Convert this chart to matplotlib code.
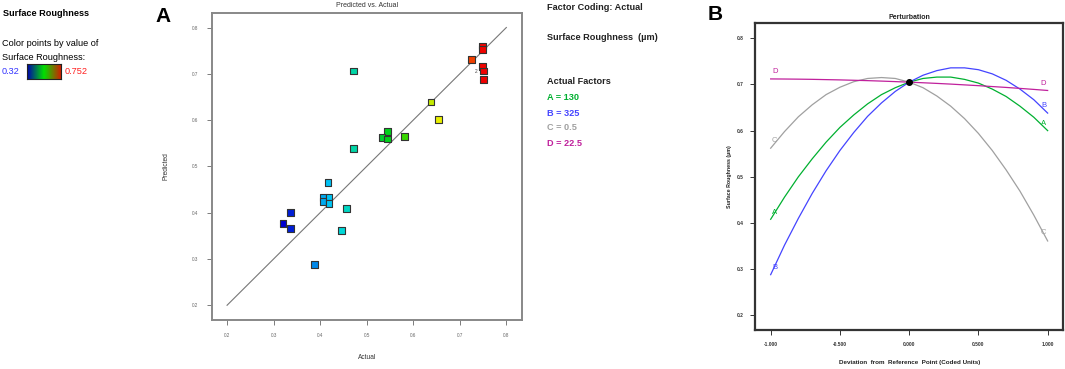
import numpy as np
import matplotlib
matplotlib.use('Agg')
from matplotlib import pyplot as plt
from matplotlib.colors import LinearSegmentedColormap, Normalize

plt.rcParams['font.family'] = ['Liberation Sans', 'DejaVu Sans']

# panel A: predicted vs actual
actual = [0.749, 0.749, 0.726, 0.749, 0.751, 0.751, 0.638, 0.654,
          0.471, 0.544, 0.533, 0.544, 0.581, 0.471,
          0.417, 0.406, 0.406, 0.419, 0.419, 0.456, 0.446,
          0.336, 0.320, 0.336, 0.388]
predicted = [0.760, 0.752, 0.731, 0.715, 0.706, 0.688, 0.639, 0.601,
             0.706, 0.576, 0.562, 0.559, 0.565, 0.539,
             0.466, 0.433, 0.425, 0.434, 0.420, 0.409, 0.362,
             0.400, 0.377, 0.366, 0.288]
color_min, color_max = 0.32, 0.752

# panel B: perturbation
dev = [-1.0, -0.9, -0.8, -0.7, -0.6, -0.5, -0.4, -0.3, -0.2, -0.1, 0.0,
       0.1, 0.2, 0.3, 0.4, 0.5, 0.6, 0.7, 0.8, 0.9, 1.0]
pert_A = [0.408, 0.456, 0.500, 0.539, 0.575, 0.607, 0.634, 0.658, 0.678, 0.693, 0.705,
          0.713, 0.716, 0.716, 0.711, 0.703, 0.690, 0.674, 0.653, 0.629, 0.600]
pert_B = [0.288, 0.352, 0.410, 0.464, 0.513, 0.557, 0.596, 0.631, 0.660, 0.685, 0.705,
          0.720, 0.730, 0.736, 0.736, 0.732, 0.723, 0.709, 0.690, 0.667, 0.638]
pert_C = [0.562, 0.598, 0.630, 0.656, 0.678, 0.694, 0.706, 0.713, 0.715, 0.713, 0.705,
          0.693, 0.675, 0.653, 0.626, 0.594, 0.557, 0.515, 0.469, 0.417, 0.361]
pert_D = [0.712, 0.7118, 0.7115, 0.7111, 0.7105, 0.7099, 0.7091, 0.7083, 0.7073, 0.7062, 0.705,
          0.7037, 0.7023, 0.7008, 0.6991, 0.6974, 0.6955, 0.6936, 0.6915, 0.6893, 0.687]
ref_point = (0.0, 0.705)

factor_names = ['A', 'B', 'C', 'D']
factor_values = ['130', '325', '0.5', '22.5']
factor_colors = ['#00b030', '#4444ff', '#a0a0a0', '#c0209c']

W, H = 1065, 369
fig = plt.figure(figsize=(W / 100, H / 100), dpi=100)


def ftext(x, y, s, **kw):
    # place text with pixel coords measured from top-left
    fig.text(x / W, 1 - y / H, s, va='center', ha=kw.pop('ha', 'left'), **kw)


# left legend
ftext(3, 13, 'Surface Roughness', fontsize=6.6, fontweight='bold')
ftext(2, 43, 'Color points by value of', fontsize=6.6)
ftext(2, 57, 'Surface Roughness:', fontsize=6.6)
ftext(2, 72, '0.32', fontsize=6.6, color='#3333ff')
ftext(65, 72, '0.752', fontsize=6.6, color='#ff2020')
cax = fig.add_axes([27 / W, 1 - 79 / H, 34 / W, 14.5 / H])
grad = LinearSegmentedColormap.from_list('g', ['#0000b0', '#00e000', '#d02000'])
cax.imshow(np.linspace(0, 1, 100)[None, :], aspect='auto', cmap=grad)
cax.set_xticks([])
cax.set_yticks([])
for s in cax.spines.values():
    s.set_color('#222222')
    s.set_linewidth(0.8)

# panel letters
ftext(163, 17, 'A', fontsize=15, fontweight='bold', ha='center')
ftext(715, 15, 'B', fontsize=15, fontweight='bold', ha='center')

# middle text block
ftext(547, 7, 'Factor Coding: Actual', fontsize=6.6, fontweight='bold', color='#222222')
ftext(547, 38, 'Surface Roughness  (\u00b5m)', fontsize=6.6, fontweight='bold', color='#222222')
ftext(547, 82, 'Actual Factors', fontsize=6.6, fontweight='bold', color='#222222')
for i, (n, v, c) in enumerate(zip(factor_names, factor_values, factor_colors)):
    ftext(547, 98 + 15 * i, '%s = %s' % (n, v), fontsize=6.6, fontweight='bold', color=c)

# ---- panel A
axA = fig.add_axes([211.7 / W, 1 - 320.3 / H, 310 / W, 307.6 / H])
pts_cmap = LinearSegmentedColormap.from_list(
    'pts', [(0.0, '#0000d0'), (0.25, '#00d8f8'), (0.55, '#00d000'),
            (0.78, '#f0f000'), (1.0, '#f00000')])
norm = Normalize(color_min, color_max)
axA.plot([0.2, 0.8], [0.2, 0.8], color='#777777', lw=0.8, zorder=1)
axA.scatter(actual, predicted, c=actual, cmap=pts_cmap, norm=norm, marker='s',
            s=24, edgecolors='#333333', linewidths=0.8, zorder=3)
axA.text(0.736, 0.706, '2', fontsize=3.5, ha='center', va='center', color='#444444')
axA.set_xlim(0.167, 0.833)
axA.set_ylim(0.1675, 0.832)
ticksA = [0.2, 0.3, 0.4, 0.5, 0.6, 0.7, 0.8]
axA.set_xticks(ticksA)
axA.set_yticks(ticksA)
axA.set_xticklabels(['%.1f' % t for t in ticksA])
axA.set_yticklabels(['%.1f' % t for t in ticksA])
axA.tick_params(labelsize=3.3, colors='#666666', length=3.5, width=0.6, pad=6)
for s in axA.spines.values():
    s.set_color('#888888')
    s.set_linewidth(1.4)
axA.set_title('Predicted vs. Actual', fontsize=5, color='#333333', pad=4)
axA.set_xlabel('Actual', fontsize=4.8, color='#333333', labelpad=11)
axA.set_ylabel('Predicted', fontsize=4.8, color='#333333', labelpad=16)

# ---- panel B
axB = fig.add_axes([755.3 / W, 1 - 330.3 / H, 308 / W, 307 / H])
curves = [pert_A, pert_B, pert_C, pert_D]
for n, ys, c in zip(factor_names, curves, factor_colors):
    axB.plot(dev, ys, color=c, lw=0.9)
# curve end labels
left_lab = {'A': 0.4225, 'B': 0.304, 'C': 0.578, 'D': 0.728}
right_lab = {'A': 0.616, 'B': 0.6535, 'C': 0.379, 'D': 0.7026}
for n, c in zip(factor_names, factor_colors):
    axB.text(-0.97, left_lab[n], n, fontsize=5.5, color=c, ha='center', va='center')
    axB.text(0.97, right_lab[n], n, fontsize=5.5, color=c, ha='center', va='center')
axB.plot([ref_point[0]], [ref_point[1]], 'o', color='black', ms=4, zorder=5)
axB.set_xlim(-1.111, 1.113)
axB.set_ylim(0.1675, 0.8325)
xticksB = [-1.0, -0.5, 0.0, 0.5, 1.0]
axB.set_xticks(xticksB)
axB.set_xticklabels(['%.3f' % t for t in xticksB])
axB.set_yticks(ticksA)
axB.set_yticklabels(['%.1f' % t for t in ticksA])
axB.tick_params(labelsize=3.5, colors='#333333', length=3.5, width=0.7, pad=5)
for lab in axB.get_xticklabels() + axB.get_yticklabels():
    lab.set_fontweight('bold')
for s in axB.spines.values():
    s.set_color('#333333')
    s.set_linewidth(1.6)
axB.set_title('Perturbation', fontsize=5, fontweight='bold', color='#222222', pad=3)
axB.set_xlabel('Deviation  from  Reference  Point (Coded Units)', fontsize=4.5,
               fontweight='bold', color='#222222', labelpad=9)
axB.set_ylabel('Surface Roughness (\u00b5m)', fontsize=3.8, fontweight='bold',
               color='#222222', labelpad=3)

plt.savefig('out.png', dpi=100)
